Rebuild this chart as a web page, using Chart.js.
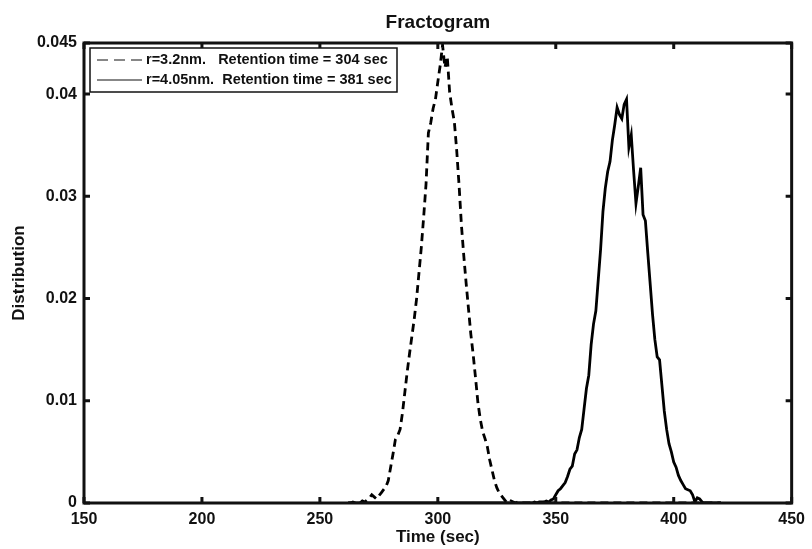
<!DOCTYPE html>
<html>
<head>
<meta charset="utf-8">
<script src="https://cdn.jsdelivr.net/npm/chart.js@4.4.0/dist/chart.umd.min.js"></script>
<style>
  body { margin: 0; background: #fff; }
  #wrap { width: 812px; height: 549px; position: relative; }
</style>
</head>
<body>
<div id="wrap"><canvas id="mycanvas"></canvas></div>
<script>
// time axis starts at this second, one sample per second
var startTime = 262;

var xTickValues = [150, 200, 250, 300, 350, 400, 450];
var yTickValues = [0, 0.01, 0.02, 0.03, 0.04, 0.045];

var labelSmall = "r=3.2nm.   Retention time = 304 sec";
var labelLarge = "r=4.05nm.  Retention time = 381 sec";

// r = 3.2 nm (dashed), 262 .. 420 sec
var smallParticle = [
  0, 0, 0.0001, 0, 0.0001, 0, 0.0002, 0.0001, 0.0003, 0.0005,
  0.0008, 0.0006, 0.0004, 0.0007, 0.0010, 0.0013, 0.0016, 0.0022, 0.0035, 0.0048,
  0.0062, 0.0066, 0.0072, 0.0088, 0.0108, 0.0128, 0.0146, 0.0163, 0.0180, 0.0200,
  0.0225, 0.0250, 0.0280, 0.0312, 0.0362, 0.0372, 0.0386, 0.0395, 0.0412, 0.0428,
  0.0448, 0.0426, 0.0437, 0.0402, 0.0386, 0.0373, 0.0345, 0.0311, 0.0272, 0.0242,
  0.0215, 0.0190, 0.0165, 0.0145, 0.0122, 0.0098, 0.0082, 0.0070, 0.0063, 0.0055,
  0.0042, 0.0032, 0.0022, 0.0015, 0.0010, 0.0007, 0.0004, 0.0001, 0, 0.0002,
  0.0001, 0, 0.0001, 0, 0, 0, 0, 0, 0, 0,
  0, 0, 0, 0, 0, 0, 0, 0, 0, 0,
  0, 0, 0, 0, 0, 0, 0, 0, 0, 0,
  0, 0, 0, 0, 0, 0, 0, 0, 0, 0,
  0, 0, 0, 0, 0, 0, 0, 0, 0, 0,
  0, 0, 0, 0, 0, 0, 0, 0, 0, 0,
  0, 0, 0, 0, 0, 0, 0, 0, 0, 0,
  0, 0, 0, 0, 0, 0, 0, 0, 0, 0,
  0, 0, 0, 0, 0, 0, 0, 0, 0
];

// r = 4.05 nm (solid), 262 .. 420 sec
var largeParticle = [
  0, 0, 0, 0, 0, 0, 0, 0, 0, 0,
  0, 0, 0, 0, 0, 0, 0, 0, 0, 0,
  0, 0, 0, 0, 0, 0, 0, 0, 0, 0,
  0, 0, 0, 0, 0, 0, 0, 0, 0, 0,
  0, 0, 0, 0, 0, 0, 0, 0, 0, 0,
  0, 0, 0, 0, 0, 0, 0, 0, 0, 0,
  0, 0, 0, 0, 0, 0, 0, 0, 0, 0,
  0, 0, 0, 0, 0, 0, 0, 0,
  0, 0.0001, 0, 0.0001, 0.0001, 0.0001, 0.0002, 0.0001, 0.0003, 0.0004,
  0.0008, 0.0012, 0.0014, 0.0017, 0.0020, 0.0026, 0.0033, 0.0036, 0.0048, 0.0052,
  0.0064, 0.0072, 0.0092, 0.0112, 0.0125, 0.0155, 0.0175, 0.0188, 0.0218, 0.0248,
  0.0285, 0.0308, 0.0324, 0.0334, 0.0355, 0.0370, 0.0387, 0.0380, 0.0376, 0.0390,
  0.0395, 0.0348, 0.0360, 0.0325, 0.0293, 0.0310, 0.0328, 0.0282, 0.0276, 0.0245,
  0.0215, 0.0185, 0.0160, 0.0143, 0.0140, 0.0115, 0.0090, 0.0072, 0.0058, 0.0050,
  0.0040, 0.0035, 0.0027, 0.0022, 0.0018, 0.0014, 0.0013, 0.0012, 0.0008, 0.0001,
  0.0005, 0.0004, 0.0001, 0, 0, 0, 0, 0, 0, 0, 0
];

function toPoints(values) {
  var pts = [];
  for (var i in values) {
    pts.push({ x: startTime + Number(i), y: values[i] });
  }
  return pts;
}

var font = "'Liberation Sans', Arial, sans-serif";

// matlab style box, inward ticks and the legend
var matlabAxes = {
  id: 'matlabAxes',
  afterDatasetsDraw: function(chart) {
    var ctx = chart.ctx;
    var a = chart.chartArea;
    var xs = chart.scales.x, ys = chart.scales.y;
    ctx.save();
    ctx.strokeStyle = '#111';
    ctx.lineWidth = 3;
    ctx.strokeRect(a.left, a.top, a.right - a.left, a.bottom - a.top);
    ctx.beginPath();
    xTickValues.forEach(function(v) {
      var px = xs.getPixelForValue(v);
      ctx.moveTo(px, a.bottom); ctx.lineTo(px, a.bottom - 6);
      ctx.moveTo(px, a.top); ctx.lineTo(px, a.top + 6);
    });
    yTickValues.forEach(function(v) {
      var py = ys.getPixelForValue(v);
      ctx.moveTo(a.left, py); ctx.lineTo(a.left + 6, py);
      ctx.moveTo(a.right, py); ctx.lineTo(a.right - 6, py);
    });
    ctx.stroke();
    ctx.restore();
  },
  afterDraw: function(chart) {
    var ctx = chart.ctx;
    var a = chart.chartArea;
    var bx = a.left + 6, by = a.top + 5, bw = 307, bh = 44;
    ctx.save();
    ctx.fillStyle = '#fff';
    ctx.fillRect(bx, by, bw, bh);
    ctx.strokeStyle = '#111';
    ctx.lineWidth = 1.5;
    ctx.strokeRect(bx, by, bw, bh);
    var rows = chart.data.datasets;
    ctx.font = 'bold 14.5px ' + font;
    ctx.textBaseline = 'middle';
    ctx.fillStyle = '#111';
    for (var i = 0; i < rows.length; i++) {
      var ry = by + 12 + i * 20;
      ctx.beginPath();
      ctx.lineWidth = 1.2;
      ctx.setLineDash(rows[i].borderDash.length ? [11, 6] : []);
      ctx.moveTo(bx + 7, ry);
      ctx.lineTo(bx + 52, ry);
      ctx.stroke();
      ctx.setLineDash([]);
      ctx.fillText(rows[i].label, bx + 56, ry);
    }
    ctx.restore();
  }
};

var chartdata = {
  datasets: [
    {
      label: labelSmall,
      data: toPoints(smallParticle),
      borderColor: '#000',
      borderWidth: 2.8,
      borderDash: [8, 5],
      fill: false,
      pointRadius: 0,
      tension: 0
    },
    {
      label: labelLarge,
      data: toPoints(largeParticle),
      borderColor: '#000',
      borderWidth: 2.8,
      borderDash: [],
      fill: false,
      pointRadius: 0,
      tension: 0
    }
  ]
};

var ctx = document.getElementById('mycanvas');

var LineGraph = new Chart(ctx, {
  type: 'line',
  data: chartdata,
  plugins: [matlabAxes],
  options: {
    responsive: true,
    maintainAspectRatio: false,
    animation: false,
    layout: { padding: { left: 0, right: 15, top: 0, bottom: 0 } },
    plugins: {
      legend: { display: false },
      tooltip: { enabled: false }
    },
    scales: {
      // top axis only carries the plot title so it sits centred over the box
      top: {
        type: 'linear',
        position: 'top',
        min: 150,
        max: 450,
        afterFit: function(s) { s.height = 43; },
        grid: { display: false, drawTicks: false },
        border: { display: false },
        ticks: { display: false },
        title: {
          display: true,
          text: 'Fractogram',
          color: '#111',
          font: { family: font, size: 19, weight: 'bold', lineHeight: 1.2 },
          padding: { top: 11, bottom: 0 }
        }
      },
      x: {
        type: 'linear',
        position: 'bottom',
        min: 150,
        max: 450,
        afterFit: function(s) { s.height = 46; },
        afterBuildTicks: function(s) {
          s.ticks = xTickValues.map(function(v) { return { value: v }; });
        },
        grid: { display: false, drawTicks: false },
        border: { display: false },
        ticks: {
          color: '#111',
          padding: 7,
          maxRotation: 0,
          autoSkip: false,
          font: { family: font, size: 16, weight: 'bold' },
          callback: function(v) { return String(v); }
        },
        title: {
          display: true,
          text: 'Time (sec)',
          color: '#111',
          font: { family: font, size: 17, weight: 'bold', lineHeight: 1.2 },
          padding: { top: 0, bottom: 1 }
        }
      },
      y: {
        min: 0,
        max: 0.045,
        afterFit: function(s) { s.width = 84; },
        afterBuildTicks: function(s) {
          s.ticks = yTickValues.map(function(v) { return { value: v }; });
        },
        grid: { display: false, drawTicks: false },
        border: { display: false },
        ticks: {
          color: '#111',
          padding: 7,
          autoSkip: false,
          font: { family: font, size: 16, weight: 'bold' },
          callback: function(v) { return String(v); }
        },
        title: {
          display: true,
          text: 'Distribution',
          color: '#111',
          font: { family: font, size: 17, weight: 'bold', lineHeight: 1.2 },
          padding: { top: 9, bottom: 0 }
        }
      }
    }
  }
});
</script>
</body>
</html>
